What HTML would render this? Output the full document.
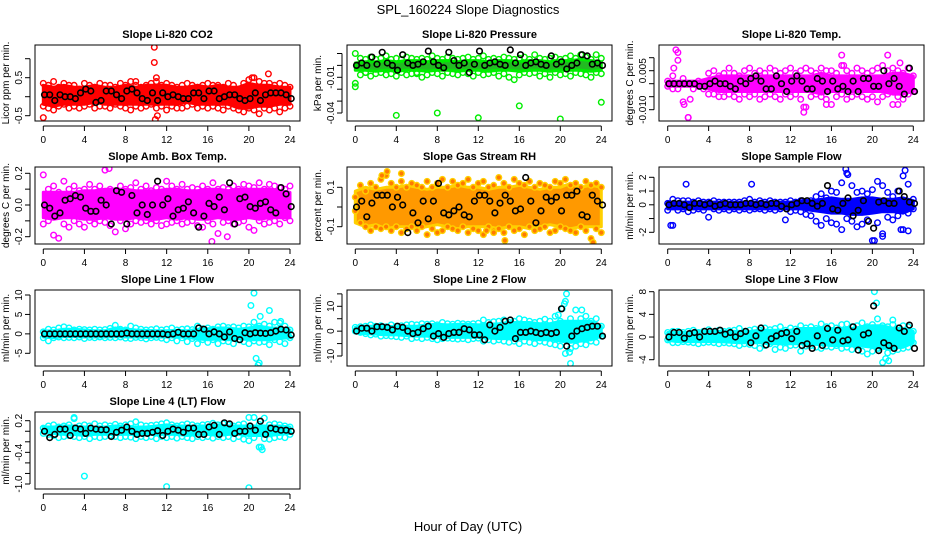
<!DOCTYPE html>
<html><head><meta charset="utf-8">
<style>
html,body{margin:0;padding:0;background:#fff;}
svg{display:block;font-family:"Liberation Sans",sans-serif;}
</style></head>
<body>
<svg id="chart" width="936" height="540" viewBox="0 0 936 540">
<text x="468" y="14" text-anchor="middle" font-size="13">SPL_160224  Slope Diagnostics</text>
<text x="468" y="531" text-anchor="middle" font-size="13">Hour of Day (UTC)</text>
</svg>
<script>
const hours=[0,1,2,3,4,5,6,7,8,9,10,11,12,13,14,15,16,17,18,19,20,21,22,23,24];
const halfHours=[0,0.5,1,1.5,2,2.5,3,3.5,4,4.5,5,5.5,6,6.5,7,7.5,8,8.5,9,9.5,10,10.5,11,11.5,12,12.5,13,13.5,14,14.5,15,15.5,16,16.5,17,17.5,18,18.5,19,19.5,20,20.5,21,21.5,22,22.5,23,23.5,24];
const xTicks=[0,4,8,12,16,20,24];

const co2Hi=[0.3,0.25,0.3,0.25,0.25,0.3,0.25,0.25,0.3,0.25,0.3,0.3,0.3,0.25,0.25,0.3,0.25,0.3,0.25,0.25,0.35,0.3,0.3,0.25,0.25];
const co2Lo=[-0.2,-0.25,-0.2,-0.2,-0.2,-0.15,-0.2,-0.2,-0.2,-0.2,-0.2,-0.2,-0.2,-0.2,-0.15,-0.2,-0.2,-0.2,-0.2,-0.3,-0.3,-0.25,-0.25,-0.2,-0.2];
const co2A=[0.35,0.3,0.4,0.25,0.35,0.3,0.3,0.2,0.35,0.3,0.25,0.35,0.3,0.3,0.25,0.35,0.3,0.4,0.3,0.25,0.3,0.35,0.4,0.3,0.35,0.3,0.25,0.3,0.35,0.3,0.25,0.3,0.35,0.3,0.3,0.25,0.35,0.3,0.2,0.35,0.45,0.5,0.4,0.35,0.35,0.3,0.35,0.3,0.25];
const co2B=[-0.25,-0.3,-0.35,-0.25,-0.2,-0.3,-0.25,-0.3,-0.25,-0.2,-0.3,-0.25,-0.25,-0.3,-0.2,-0.25,-0.3,-0.35,-0.25,-0.3,-0.25,-0.2,-0.3,-0.25,-0.35,-0.25,-0.3,-0.3,-0.25,-0.2,-0.3,-0.25,-0.3,-0.25,-0.3,-0.35,-0.25,-0.3,-0.35,-0.4,-0.3,-0.35,-0.45,-0.3,-0.35,-0.3,-0.4,-0.3,-0.25];
const co2K=[0.05,0.05,-0.1,0.05,0.0,0,-0.05,0.1,0.2,0.15,-0.15,-0.1,0.15,0.15,0.05,-0.05,0.15,0.2,0.1,-0.05,-0.1,0.1,-0.1,0.1,0,0.05,0.0,-0.05,-0.05,0.1,0.1,-0.05,0.15,0.15,-0.05,0.0,0.05,0.05,-0.05,-0.1,-0.05,0.1,-0.1,0.05,0.1,0.1,0.1,0.05,-0.05];
const co2Out=[[10.8,1.3],[10.8,0.9],[11,0.5],[11.1,-0.5],[10.9,-0.6],[0,-0.55],[21.9,0.6],[20.3,0.5],[9,0.4]];

const prsHi=[0.002,0.003,0.003,0.004,0.003,0.004,0.004,0.003,0.004,0.004,0.003,0.004,0.004,0.003,0.004,0.004,0.003,0.004,0.004,0.003,0.004,0.004,0.005,0.004,0.003];
const prsLo=[-0.004,-0.004,-0.005,-0.004,-0.005,-0.004,-0.004,-0.005,-0.004,-0.004,-0.005,-0.004,-0.004,-0.005,-0.004,-0.004,-0.005,-0.004,-0.004,-0.005,-0.004,-0.004,-0.004,-0.005,-0.004];
const prsA=[0.01,0.006,0.005,0.007,0.005,0.006,0.008,0.005,0.006,0.005,0.007,0.006,0.005,0.006,0.005,0.008,0.006,0.005,0.007,0.006,0.005,0.006,0.007,0.005,0.006,0.008,0.005,0.006,0.005,0.007,0.006,0.005,0.006,0.007,0.005,0.009,0.006,0.005,0.006,0.007,0.005,0.006,0.008,0.006,0.009,0.007,0.005,0.009,0.006];
const prsB=[-0.018,-0.008,-0.006,-0.009,-0.007,-0.006,-0.008,-0.007,-0.009,-0.006,-0.008,-0.007,-0.006,-0.01,-0.008,-0.006,-0.007,-0.009,-0.006,-0.007,-0.008,-0.006,-0.007,-0.009,-0.006,-0.008,-0.007,-0.006,-0.009,-0.007,-0.01,-0.012,-0.008,-0.006,-0.007,-0.006,-0.009,-0.007,-0.01,-0.006,-0.008,-0.007,-0.009,-0.006,-0.007,-0.008,-0.01,-0.006,-0.007];
const prsK=[0.0,0.002,0.0,0.007,0.001,0.011,0.002,0.0,-0.004,0.009,0.002,0.0,0.001,0.003,0.012,0.003,0.0,-0.002,0.011,0.004,0.0,0.002,-0.006,0.001,0.012,0.0,0.002,0.003,0.001,0.0,0.013,0.002,0.009,0.0,0.002,0.003,0.001,0.0,0.008,0.001,0.003,-0.003,0.0,0.002,0.009,0.008,0.001,0.002,0.0];
const prsOut=[[0,-0.015],[4,-0.042],[8,-0.04],[12,-0.044],[16,-0.034],[20,-0.045],[24,-0.031],[1,-0.006],[6,-0.007]];

const tmpHi=[0.001,0.001,0.001,0.001,0.002,0.003,0.003,0.003,0.003,0.003,0.003,0.003,0.003,0.003,0.003,0.004,0.003,0.003,0.003,0.003,0.003,0.003,0.004,0.004,0.003];
const tmpLo=[-0.001,-0.001,-0.001,-0.001,-0.002,-0.003,-0.003,-0.003,-0.003,-0.003,-0.003,-0.003,-0.003,-0.003,-0.003,-0.004,-0.003,-0.003,-0.003,-0.003,-0.003,-0.003,-0.004,-0.004,-0.003];
const tmpA=[0.001,0.003,0.012,0.002,0.0,0.0,0.001,0.0,0.004,0.005,0.003,0.004,0.006,0.004,0.003,0.005,0.006,0.004,0.005,0.004,0.006,0.005,0.004,0.005,0.006,0.004,0.005,0.006,0.005,0.004,0.006,0.005,0.005,0.004,0.007,0.005,0.004,0.006,0.005,0.004,0.005,0.006,0.007,0.005,0.006,0.005,0.004,0.006,0.003];
const tmpB=[-0.001,-0.002,-0.002,-0.007,-0.013,-0.002,-0.001,-0.002,-0.004,-0.004,-0.005,-0.005,-0.004,-0.005,-0.006,-0.004,-0.005,-0.004,-0.006,-0.005,-0.004,-0.005,-0.006,-0.004,-0.005,-0.004,-0.006,-0.009,-0.005,-0.004,-0.005,-0.006,-0.008,-0.005,-0.004,-0.006,-0.005,-0.004,-0.005,-0.006,-0.005,-0.007,-0.005,-0.004,-0.008,-0.005,-0.006,-0.004,-0.003];
const tmpK=[0,0,0,0,0,0,-0.001,-0.001,0,0.001,0,0,-0.001,-0.002,0.001,0,0.002,0.003,0.001,-0.002,-0.002,0.003,0,-0.003,0.001,0.003,0.001,-0.002,-0.002,0.002,0.001,-0.003,0.001,-0.002,-0.001,-0.003,0.001,-0.003,0.002,0.002,-0.001,-0.001,0.005,0,0.002,-0.001,-0.004,0.006,-0.003];
const tmpOut=[[0.8,0.013],[1,0.009],[0.6,0.006],[1.6,-0.008],[2,-0.013],[2.2,-0.006],[13.3,-0.009],[13.3,-0.011],[17,0.011],[17.2,0.007],[21.5,0.011],[22.7,0.008],[15.5,-0.008],[22.5,-0.008]];

const ambHi=[0.08,0.08,0.08,0.08,0.09,0.09,0.1,0.1,0.1,0.09,0.09,0.09,0.1,0.1,0.09,0.09,0.1,0.1,0.09,0.1,0.1,0.1,0.1,0.09,0.08];
const ambLo=[-0.08,-0.09,-0.08,-0.08,-0.09,-0.09,-0.08,-0.09,-0.09,-0.08,-0.09,-0.09,-0.08,-0.09,-0.08,-0.09,-0.09,-0.08,-0.09,-0.09,-0.08,-0.09,-0.08,-0.08,-0.08];
const ambA=[0.19,0.1,0.12,0.08,0.15,0.1,0.12,0.09,0.1,0.13,0.1,0.12,0.22,0.1,0.09,0.12,0.1,0.11,0.14,0.1,0.12,0.09,0.11,0.1,0.15,0.12,0.1,0.13,0.1,0.11,0.1,0.12,0.1,0.14,0.1,0.11,0.1,0.12,0.1,0.13,0.12,0.11,0.14,0.1,0.13,0.12,0.11,0.1,0.12];
const ambB=[-0.12,-0.1,-0.19,-0.21,-0.12,-0.14,-0.1,-0.12,-0.14,-0.1,-0.12,-0.1,-0.11,-0.13,-0.17,-0.1,-0.15,-0.12,-0.1,-0.11,-0.1,-0.12,-0.1,-0.13,-0.12,-0.11,-0.1,-0.12,-0.11,-0.1,-0.13,-0.14,-0.1,-0.12,-0.18,-0.11,-0.1,-0.12,-0.11,-0.1,-0.14,-0.16,-0.1,-0.12,-0.11,-0.1,-0.12,-0.08,-0.1];
const ambK=[0,-0.02,-0.07,-0.05,0.03,0.04,0.06,0.05,-0.02,-0.04,-0.04,0.03,0,-0.12,0.09,0.08,-0.12,0.06,-0.05,0,-0.06,0,0.15,0,0.04,-0.07,-0.03,-0.02,0.02,-0.05,-0.14,-0.07,0.01,-0.01,0.05,-0.03,0.14,-0.12,0.04,0.05,-0.01,-0.02,0.01,0.02,-0.03,-0.05,0.11,0.07,-0.01];
const ambOut=[[6.4,0.23],[16.4,-0.23],[17.9,-0.2]];

const rhHi=[0.08,0.1,0.09,0.1,0.1,0.11,0.1,0.09,0.1,0.1,0.11,0.1,0.1,0.09,0.1,0.1,0.11,0.1,0.09,0.1,0.1,0.12,0.1,0.11,0.1];
const rhLo=[-0.08,-0.1,-0.09,-0.11,-0.1,-0.1,-0.11,-0.1,-0.09,-0.1,-0.11,-0.1,-0.1,-0.1,-0.11,-0.1,-0.1,-0.11,-0.1,-0.09,-0.1,-0.11,-0.1,-0.1,-0.1];
const rhA=[0.05,0.11,0.08,0.12,0.1,0.14,0.16,0.12,0.1,0.13,0.1,0.12,0.11,0.1,0.13,0.1,0.12,0.14,0.1,0.13,0.11,0.12,0.14,0.1,0.12,0.13,0.1,0.11,0.15,0.12,0.1,0.14,0.12,0.11,0.13,0.1,0.12,0.11,0.1,0.13,0.12,0.14,0.11,0.12,0.1,0.13,0.11,0.12,0.1];
const rhB=[-0.02,-0.08,-0.1,-0.12,-0.1,-0.11,-0.1,-0.12,-0.1,-0.13,-0.11,-0.1,-0.12,-0.1,-0.14,-0.11,-0.13,-0.12,-0.1,-0.11,-0.12,-0.1,-0.13,-0.11,-0.12,-0.14,-0.1,-0.12,-0.11,-0.13,-0.1,-0.12,-0.11,-0.14,-0.1,-0.12,-0.11,-0.1,-0.13,-0.12,-0.1,-0.11,-0.12,-0.13,-0.1,-0.12,-0.16,-0.11,-0.13];
const rhK=[0,0.03,-0.05,0.02,0.06,0.06,0.06,0,0.05,0.01,-0.13,-0.03,-0.08,0.03,-0.06,0.03,0.12,-0.03,-0.04,-0.02,0,-0.04,-0.05,0.03,0.06,0.06,0.03,-0.03,0.02,0.06,0.03,-0.02,-0.01,0.15,0.03,-0.08,-0.02,0.05,0.03,0.05,-0.02,0.06,0.06,0.08,-0.04,-0.05,0.06,0.03,0.01];
const rhOut=[[3.1,0.18],[2.6,0.16],[4.5,0.17],[14.6,-0.17],[13.5,-0.13],[23.2,-0.18],[12.8,-0.12]];

const sfHi=[0.2,0.2,0.2,0.2,0.2,0.2,0.2,0.2,0.2,0.2,0.2,0.2,0.2,0.3,0.3,0.4,0.5,0.4,0.4,0.5,0.5,0.4,0.4,0.5,0.3];
const sfLo=[-0.3,-0.3,-0.3,-0.3,-0.3,-0.3,-0.3,-0.3,-0.3,-0.3,-0.3,-0.3,-0.3,-0.3,-0.4,-0.5,-0.6,-0.6,-0.7,-0.7,-0.6,-0.5,-0.5,-0.6,-0.3];
const sfA=[0.1,0.4,0.3,0.3,0.3,0.2,0.3,0.2,0.2,0.3,0.2,0.2,0.2,0.2,0.2,0.3,0.4,0.2,0.3,0.2,0.3,0.2,0.2,0.2,0.3,0.2,0.3,0.2,0.3,0.6,0.8,0.5,1.0,0.9,1.6,2.3,1.4,0.9,1.0,0.8,1.1,1.7,1.4,0.9,0.6,1.0,2.1,1.5,0.4];
const sfB=[-0.4,-1.5,-0.4,-0.3,-0.5,-0.4,-0.3,-0.4,-0.9,-0.3,-0.4,-0.3,-0.4,-0.3,-0.4,-0.3,-0.4,-0.3,-0.3,-0.4,-0.3,-0.4,-0.3,-1.1,-0.5,-0.4,-0.5,-0.7,-0.8,-1.2,-1.5,-1.0,-1.3,-1.4,-1.8,-1.0,-1.2,-1.6,-1.4,-1.1,-2.6,-1.3,-2.1,-0.9,-1.1,-0.8,-1.8,-0.6,-0.3];
const sfK=[0,0.1,0.1,0,-0.2,0.1,0.1,0,0.1,-0.1,0,0.1,0,0,0,0.1,0.1,0,0.1,0,0.1,0.1,-0.1,-0.3,0,0.1,0.3,0.3,0.1,-0.1,0.1,1.4,-0.3,-0.4,0.1,0.5,-0.8,-0.4,0.3,-1.2,-1.7,0.2,0.3,0.1,0.1,1.0,0.6,0.2,0.1];
const sfOut=[[1.8,1.5],[8.2,1.5],[0.3,-1.5],[17.4,2.6],[17.6,2.2],[23.2,2.5],[20.2,-2.6],[21,-2.3],[22.8,-1.8],[23.5,-1.9]];

const l1Hi=[0.7,0.8,1.2,1.2,1,0.8,0.8,1.5,1.2,1,0.9,0.8,0.8,0.9,0.8,1.2,1.3,1.5,1.5,1.2,1.5,2,1.5,1.5,1];
const l1Lo=[-0.8,-1,-0.7,-0.7,-0.8,-0.8,-0.8,-0.7,-0.8,-0.8,-0.9,-0.8,-0.8,-0.8,-0.9,-1.3,-1.5,-1.3,-1.5,-1.2,-1.5,-1.5,-1.5,-1.2,-1];
const l1A=[0.5,1.2,1,1.5,1.8,1.5,1,1.2,1.1,1,1.2,1,1.1,1.4,2.2,1.2,1,2,1.5,1.2,1,1.1,1.3,1,1.2,1.5,1,1.2,1.3,1.1,2,1.3,1.5,1.2,1.8,2,1.6,1.8,1.5,2,1.8,3,2,2.5,2,3,2.8,2,1];
const l1B=[-1,-1.8,-1,-0.8,-1,-0.9,-1,-0.8,-1.2,-0.9,-1,-0.8,-1,-0.9,-1,-0.8,-1.1,-1.2,-0.9,-1,-1.3,-1,-0.9,-1.1,-1.5,-1,-1.8,-1,-2,-1.2,-2.5,-1.5,-2.2,-1.5,-2.5,-1.8,-2,-2.5,-1.5,-2,-2.5,-1.8,-2.2,-2,-2.8,-1.5,-2,-2.5,-1];
const l1K=[0,0,0,0,0,0,0,0,0,0,0,0,0,0,0,0,0.2,0,0,0,0,0,0,0,-0.2,0,0.4,0,0,0,1.5,1.2,0,0.5,0,-0.8,0.5,-1.2,-1.5,0.3,0,0.3,0.2,0.1,0.3,0.7,1.2,1,-0.3];
const l1Out=[[20.5,10.5],[20.2,7.3],[21.1,4.5],[22,6],[20.7,-6.3],[21,-7.5],[20.9,-8],[23.1,3.2]];

const l2Hi=[1.5,2,2,2,1.8,2,2,2.5,2.8,2.5,2.8,2.8,2.5,2.8,3,3.5,3.5,3.5,3,3,4,4,4,4,2];
const l2Lo=[-0.5,-1,-1.2,-1.5,-1.5,-1.8,-2,-2,-2.5,-2.5,-2.5,-2.5,-2.5,-2.8,-3,-3,-3,-3,-3.5,-3.5,-4,-4.5,-4,-3.5,-2];
const l2A=[1.5,1.8,2,2.5,2,2.2,1.8,2.5,2,2.2,2.5,2.8,2.5,3,2.8,3,2.5,3.5,3,2.8,3.2,3,2.8,3,3.2,4.5,3.5,3.8,4,4.5,3.5,4,5,4.5,4,3.5,4,4.8,4,6,4,12,5,8.5,5,6,4,5,2];
const l2B=[0,-0.5,-1,-1.5,-1.2,-2,-1.8,-2,-2.2,-2.5,-2,-3,-2.5,-3,-2.5,-3,-3.5,-3,-2.8,-3,-3.2,-3,-3.5,-3,-2.8,-4,-3.5,-4,-3.5,-4,-4.5,-4,-5,-4,-4.5,-5,-4,-4.5,-5,-5.5,-6,-9,-7,-6,-5,-5.5,-4,-4.5,-2];
const l2K=[0,1.2,1.2,0,1.8,1.8,1.5,0.5,2,1.5,0,-1,-0.5,1,2,-2,-1,-2.5,-1,-0.5,-0.5,1,0.5,-1.5,-1.5,-3.5,2.5,0,1.5,4,4.5,-3,-0.5,-0.5,0,-0.5,-1,-0.5,-1,-0.5,9,-6,-2,0,1,1.5,2,2,-2];
const l2Out=[[20.6,15],[20.4,11],[20.2,9],[20.9,-8.5],[21,-13],[22.1,8.5],[19.8,6.5]];

const l3Hi=[0.8,0.8,0.8,1,1,1,1,1,1,1.2,1.2,1.2,1.2,1.5,1.5,1.5,1.5,1.5,1.5,1.8,2,2,1.5,1.5,1];
const l3Lo=[-0.6,-0.8,-0.8,-0.8,-0.8,-0.8,-0.9,-1,-1,-1,-1.2,-1.2,-1.2,-1.2,-1.3,-1.3,-1.5,-1.5,-1.5,-1.6,-1.8,-2,-2,-1.8,-1];
const l3A=[0.8,1,1,0.8,1,1.2,0.8,1,1.3,0.9,1.2,1,1.1,1.2,1.5,1,1.2,1.4,1.2,1.6,1.3,1.5,1.8,1.2,1.6,1.4,2,1.6,1.8,1.5,2.3,1.8,2,1.6,2.2,2.3,1.8,2,2.5,1.8,2.2,3.2,2,1.8,2.2,1.6,2,1.8,1];
const l3B=[-0.5,-1,-1,-0.8,-0.9,-1,-1.2,-1,-0.9,-1,-1.2,-1,-1.1,-1.2,-1.5,-1.2,-1.3,-1.5,-2,-1.5,-1.2,-2.2,-1.8,-2,-1.5,-1.4,-2.5,-1.6,-1.5,-1.8,-2,-1.6,-1.8,-1.5,-2,-1.8,-2.2,-1.6,-2.5,-3,-2.5,-2,-4.5,-2.8,-2.5,-2.2,-2,-1.8,-1];
const l3K=[0,0.8,0.8,-0.2,0.6,0.8,0,1,1,1,1.2,0.5,0.8,0,0.6,1,-1,0.2,1.6,-1.4,-0.3,0.2,0.6,0.8,-0.3,1,-1.5,-1.2,-2,0.2,-1.5,1.5,-0.5,1.2,-0.7,-0.5,1.8,-2.3,0.4,0.7,5.5,-2.4,-1,-1.5,-2,1.6,1,2.1,-2];
const l3Out=[[20.2,8],[20.4,6],[21.3,-3.8],[21.6,-4.2],[20.6,-2],[22,3]];

const l4Hi=[0.08,0.08,0.1,0.1,0.08,0.08,0.08,0.1,0.1,0.08,0.08,0.1,0.12,0.1,0.1,0.1,0.1,0.12,0.1,0.1,0.1,0.1,0.1,0.1,0.08];
const l4Lo=[-0.02,-0.04,-0.06,-0.06,-0.08,-0.06,-0.06,-0.06,-0.06,-0.06,-0.06,-0.06,-0.06,-0.06,-0.08,-0.06,-0.06,-0.08,-0.06,-0.06,-0.08,-0.08,-0.08,-0.06,-0.04];
const l4A=[0.06,0.1,0.12,0.08,0.1,0.12,0.24,0.1,0.12,0.1,0.14,0.1,0.12,0.1,0.13,0.1,0.12,0.14,0.18,0.12,0.1,0.11,0.12,0.14,0.16,0.12,0.1,0.12,0.14,0.12,0.1,0.12,0.13,0.15,0.12,0.14,0.12,0.1,0.12,0.14,0.26,0.26,0.13,0.25,0.12,0.14,0.12,0.1,0.08];
const l4B=[-0.04,-0.06,-0.08,-0.12,-0.1,-0.08,-0.1,-0.12,-0.1,-0.14,-0.1,-0.12,-0.1,-0.08,-0.1,-0.12,-0.1,-0.11,-0.14,-0.1,-0.12,-0.1,-0.14,-0.1,-0.12,-0.1,-0.13,-0.1,-0.12,-0.14,-0.1,-0.12,-0.1,-0.13,-0.1,-0.12,-0.1,-0.14,-0.1,-0.15,-0.18,-0.12,-0.3,-0.14,-0.15,-0.12,-0.1,-0.12,-0.06];
const l4K=[0,-0.12,-0.06,0.04,0.04,-0.08,0.06,0.04,-0.04,0.06,0.04,0.03,0.03,-0.1,-0.02,0.02,0.08,0,-0.06,-0.04,-0.04,-0.02,0.01,-0.08,0,0.04,0.02,-0.02,0.06,0.06,-0.06,-0.06,0.08,0.11,-0.06,0.16,0.14,-0.04,0,0,0.1,0.02,0.19,-0.06,0.06,0.04,0.02,0.02,0];
const l4Out=[[4,-0.85],[12,-1.05],[20,-1.07],[21.2,-0.3],[21.3,-0.35],[3,0.26],[20.5,0.26]];

const svg=document.getElementById('chart');
const NS='http://www.w3.org/2000/svg';
function mk(tag,attrs,parent){const e=document.createElementNS(NS,tag);for(const k in attrs)e.setAttribute(k,attrs[k]);(parent||svg).appendChild(e);return e;}

const cols=[{x0:35,x1:300,h0:43.3,h24:290},{x0:347,x1:612,h0:355.3,h24:601.3},{x0:659,x1:924,h0:667.7,h24:913.3}];
const rows=[{y0:45,y1:121},{y0:167,y1:244},{y0:290,y1:366},{y0:412,y1:489}];

function panel(cfg){
  const c=cols[cfg.col], r=rows[cfg.row];
  const g=mk('g',{});
  
  
  const xs=h=>c.h0+(c.h24-c.h0)*h/24;
  const ys=v=>cfg.p1+(cfg.p2-cfg.p1)*(v-cfg.v1)/(cfg.v2-cfg.v1);
  const clipId='clip'+cfg.name;
  const cp=mk('clipPath',{id:clipId},g);
  mk('rect',{x:c.x0,y:r.y0,width:c.x1-c.x0,height:r.y1-r.y0},cp);
  const pg=mk('g',{'clip-path':'url(#'+clipId+')'},g);
  // band
  let pts=[];
  for(let i=0;i<cfg.hi.length;i++)pts.push(xs(hours[i]).toFixed(1)+','+ys(cfg.hi[i]).toFixed(1));
  for(let i=cfg.lo.length-1;i>=0;i--)pts.push(xs(hours[i]).toFixed(1)+','+ys(cfg.lo[i]).toFixed(1));
  const band=mk('polygon',{points:pts.join(' '),fill:cfg.band,stroke:cfg.color,'stroke-width':3,'stroke-linejoin':'round'},pg);
  
  
  function dot(h,v,col,w,nm,fill){
    const e=mk('circle',{cx:xs(h).toFixed(1),cy:ys(v).toFixed(1),r:2.8,fill:fill||'none',stroke:col,'stroke-width':w},pg);
    
    
  }
  [cfg.a,cfg.b].forEach(arr=>arr.forEach((v,i)=>{if(i<halfHours.length)dot(halfHours[i],v,cfg.color,1.4,'data-point',cfg.pfill);}));
  cfg.out.forEach(p=>dot(p[0],p[1],cfg.color,1.4,'outlier-point',cfg.pfill));
  cfg.k.forEach((v,i)=>{if(i<halfHours.length)dot(halfHours[i]+0.12,v,'#000',1.6,'black-point');});
  // box
  const box=mk('rect',{x:c.x0,y:r.y0,width:c.x1-c.x0,height:r.y1-r.y0,fill:'none',stroke:'#000','stroke-width':1},g);
  
  
  // title
  const t=mk('text',{x:(c.x0+c.x1)/2,y:r.y0-7,'text-anchor':'middle','font-size':11,'font-weight':'bold'},g);
  t.textContent=cfg.title;
  
  
  // x axis
  mk('line',{x1:xs(0),x2:xs(24),y1:r.y1+5,y2:r.y1+5,stroke:'#000'},g);
  xTicks.forEach(h=>{
    mk('line',{x1:xs(h),x2:xs(h),y1:r.y1+5,y2:r.y1+10,stroke:'#000'},g);
    const tl=mk('text',{x:xs(h),y:r.y1+22,'text-anchor':'middle','font-size':10},g);
    tl.textContent=h;
    
    
  });
  // y axis
  const yt=cfg.ticks;
  mk('line',{x1:c.x0-5,x2:c.x0-5,y1:ys(Math.min(...yt)),y2:ys(Math.max(...yt)),stroke:'#000'},g);
  yt.forEach(v=>mk('line',{x1:c.x0-10,x2:c.x0-5,y1:ys(v),y2:ys(v),stroke:'#000'},g));
  cfg.labels.forEach((lab,i)=>{
    const y=ys(cfg.labelVals[i]);
    const tl=mk('text',{x:c.x0-13,y:y,'text-anchor':'middle','font-size':10,transform:'rotate(-90 '+(c.x0-13)+' '+y+')'},g);
    tl.textContent=lab;
    
    
  });
  const ym=(r.y0+r.y1)/2;
  const yl=mk('text',{x:c.x0-26,y:ym,'text-anchor':'middle','font-size':10,transform:'rotate(-90 '+(c.x0-26)+' '+ym+')'},g);
  yl.textContent=cfg.ylab;
  
  
}

panel({name:'co2-panel',col:0,row:0,title:'Slope Li-820 CO2',ylab:'Licor ppm per min.',v1:0.5,p1:77.7,v2:-0.5,p2:115.7,ticks:[-0.5,0,0.5,1.0],labels:['-0.5','0.5'],labelVals:[-0.5,0.5],color:'#ff0000',band:'#ff0000',hi:co2Hi,lo:co2Lo,a:co2A,b:co2B,k:co2K,out:co2Out});
panel({name:'pressure-panel',col:1,row:0,title:'Slope Li-820 Pressure',ylab:'kPa per min.',v1:-0.01,p1:77.3,v2:-0.04,p2:113,ticks:[0.01,0,-0.01,-0.02,-0.03,-0.04],labels:['-0.01','-0.04'],labelVals:[-0.01,-0.04],color:'#00ee00',band:'#22bb22',hi:prsHi,lo:prsLo,a:prsA,b:prsB,k:prsK,out:prsOut});
panel({name:'licor-temp-panel',col:2,row:0,title:'Slope Li-820 Temp.',ylab:'degrees C per min.',v1:0.005,p1:70.7,v2:-0.01,p2:109.7,ticks:[0.01,0.005,0,-0.005,-0.01],labels:['0.005','-0.010'],labelVals:[0.005,-0.01],color:'#ff00ff',band:'#ff00ff',hi:tmpHi,lo:tmpLo,a:tmpA,b:tmpB,k:tmpK,out:tmpOut});
panel({name:'amb-box-temp-panel',col:0,row:1,title:'Slope Amb. Box Temp.',ylab:'degrees C per min.',v1:0.2,p1:173.3,v2:-0.2,p2:236.7,ticks:[-0.2,-0.1,0,0.1,0.2],labels:['0.2','0.0','-0.2'],labelVals:[0.2,0,-0.2],color:'#ff00ff',band:'#ff00ff',hi:ambHi,lo:ambLo,a:ambA,b:ambB,k:ambK,out:ambOut});
panel({name:'gas-rh-panel',col:1,row:1,title:'Slope Gas Stream RH',ylab:'percent per min.',v1:0.1,p1:187.3,v2:-0.1,p2:226.7,ticks:[-0.1,0,0.1],labels:['0.1','-0.1'],labelVals:[0.1,-0.1],color:'#ffd000',band:'#ff9900',pfill:'#ff7a00',hi:rhHi,lo:rhLo,a:rhA,b:rhB,k:rhK,out:rhOut});
panel({name:'sample-flow-panel',col:2,row:1,title:'Slope Sample Flow',ylab:'ml/min per min.',v1:2,p1:177.3,v2:-2,p2:232.3,ticks:[-2,-1,0,1,2],labels:['2','1','0','-2'],labelVals:[2,1,0,-2],color:'#0000ff',band:'#0000ff',hi:sfHi,lo:sfLo,a:sfA,b:sfB,k:sfK,out:sfOut});
panel({name:'line1-flow-panel',col:0,row:2,title:'Slope Line 1 Flow',ylab:'ml/min per min.',v1:10,p1:295,v2:-5,p2:353.3,ticks:[-5,0,5,10],labels:['10','5','0','-5'],labelVals:[10,5,0,-5],color:'#00ffff',band:'#00ffff',hi:l1Hi,lo:l1Lo,a:l1A,b:l1B,k:l1K,out:l1Out});
panel({name:'line2-flow-panel',col:1,row:2,title:'Slope Line 2 Flow',ylab:'ml/min per min.',v1:10,p1:306.3,v2:-10,p2:356,ticks:[-10,-5,0,5,10,15],labels:['10','0','-10'],labelVals:[10,0,-10],color:'#00ffff',band:'#00ffff',hi:l2Hi,lo:l2Lo,a:l2A,b:l2B,k:l2K,out:l2Out});
panel({name:'line3-flow-panel',col:2,row:2,title:'Slope Line 3 Flow',ylab:'ml/min per min.',v1:8,p1:291.7,v2:-4,p2:359.7,ticks:[-4,0,4,8],labels:['8','4','0','-4'],labelVals:[8,4,0,-4],color:'#00ffff',band:'#00ffff',hi:l3Hi,lo:l3Lo,a:l3A,b:l3B,k:l3K,out:l3Out});
panel({name:'line4-flow-panel',col:0,row:3,title:'Slope Line 4 (LT) Flow',ylab:'ml/min per min.',v1:0.2,p1:420.7,v2:-1.0,p2:484,ticks:[-1.0,-0.8,-0.6,-0.4,-0.2,0,0.2],labels:['0.2','-0.4','-1.0'],labelVals:[0.2,-0.4,-1.0],color:'#00ffff',band:'#00ffff',hi:l4Hi,lo:l4Lo,a:l4A,b:l4B,k:l4K,out:l4Out});
</script>
</body></html>
